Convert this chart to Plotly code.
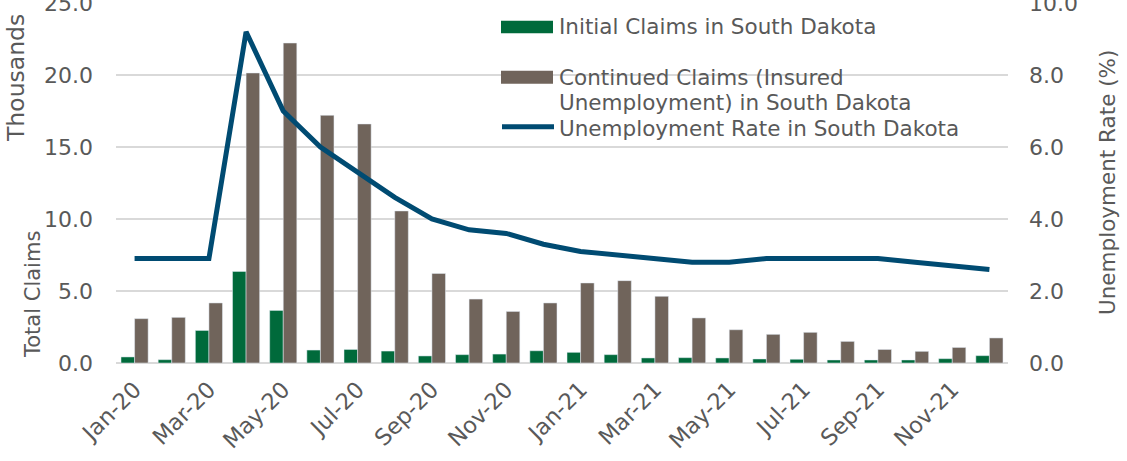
import plotly.graph_objects as go

# Monthly unemployment insurance data, South Dakota, 2020-2021
months = [
    "Jan-20", "Feb-20", "Mar-20", "Apr-20", "May-20", "Jun-20",
    "Jul-20", "Aug-20", "Sep-20", "Oct-20", "Nov-20", "Dec-20",
    "Jan-21", "Feb-21", "Mar-21", "Apr-21", "May-21", "Jun-21",
    "Jul-21", "Aug-21", "Sep-21", "Oct-21", "Nov-21", "Dec-21",
]
# Thousands of claims
initial_claims = [
    0.42, 0.23, 2.26, 6.36, 3.65, 0.90, 0.94, 0.83, 0.49, 0.58, 0.62, 0.85,
    0.74, 0.58, 0.35, 0.37, 0.35, 0.28, 0.26, 0.21, 0.21, 0.21, 0.30, 0.51,
]
continued_claims = [
    3.08, 3.17, 4.17, 20.14, 22.22, 17.2, 16.6, 10.56, 6.22, 4.44, 3.58, 4.17,
    5.56, 5.72, 4.63, 3.13, 2.31, 1.99, 2.13, 1.50, 0.94, 0.81, 1.08, 1.74,
]
# Percent
unemployment_rate = [
    2.9, 2.9, 2.9, 9.2, 7.0, 6.0, 5.3, 4.6, 4.0, 3.7, 3.6, 3.3,
    3.1, 3.0, 2.9, 2.8, 2.8, 2.9, 2.9, 2.9, 2.9, 2.8, 2.7, 2.6,
]
tick_labels = months[::2]

GREEN = "#006A3B"
BROWN = "#70645B"
BLUE = "#004B72"
TEXT = "#595959"
GRID = "#D9D9D9"
FONT = "DejaVu Sans"

W, H = 1127, 461
L, R, T, B = 116, 119, 3, 98
PW, PH = W - L - R, H - T - B


def px(x):
    return (x - L) / PW


def py(y):
    return (H - B - y) / PH


fig = go.Figure()
fig.add_trace(go.Bar(x=months, y=initial_claims, marker_color=GREEN,
                     name="Initial Claims in South Dakota", showlegend=False))
fig.add_trace(go.Bar(x=months, y=continued_claims, marker_color=BROWN,
                     name="Continued Claims (Insured Unemployment) in South Dakota",
                     showlegend=False))
fig.add_trace(go.Scatter(x=months, y=unemployment_rate, yaxis="y2", mode="lines",
                         line=dict(color=BLUE, width=5),
                         name="Unemployment Rate in South Dakota", showlegend=False))

# Legend drawn by hand: wide swatches next to the labels
legend_items = [
    ("rect", GREEN, 20.7, 33.3, ["Initial Claims in South Dakota"], [27]),
    ("rect", BROWN, 70.7, 83.7, ["Continued Claims (Insured",
                                 "Unemployment) in South Dakota"], [77, 102.5]),
    ("line", BLUE, 126.7, 126.7, ["Unemployment Rate in South Dakota"], [128]),
]
shapes = []
annotations = []
for kind, color, y0, y1, texts, ys in legend_items:
    if kind == "rect":
        shapes.append(dict(type="rect", xref="paper", yref="paper",
                           x0=px(501), x1=px(553), y0=py(y0), y1=py(y1),
                           fillcolor=color, line=dict(width=0)))
    else:
        shapes.append(dict(type="line", xref="paper", yref="paper",
                           x0=px(502), x1=px(554), y0=py(y0), y1=py(y1),
                           line=dict(color=color, width=5)))
    for t, yy in zip(texts, ys):
        annotations.append(dict(text=t, xref="paper", yref="paper",
                                x=px(557), y=py(yy), xanchor="left", yanchor="middle",
                                showarrow=False, font=dict(size=21.5, color=TEXT)))

# Axis titles
annotations.append(dict(text="Thousands", xref="paper", yref="paper",
                        x=px(16), y=py(78), textangle=-90, showarrow=False,
                        xanchor="center", yanchor="middle",
                        font=dict(size=23.5, color=TEXT)))
annotations.append(dict(text="Total Claims", xref="paper", yref="paper",
                        x=px(33), y=py(295), textangle=-90, showarrow=False,
                        xanchor="center", yanchor="middle",
                        font=dict(size=21, color=TEXT)))
annotations.append(dict(text="Unemployment Rate (%)", xref="paper", yref="paper",
                        x=px(1107), y=py(183), textangle=-90, showarrow=False,
                        xanchor="center", yanchor="middle",
                        font=dict(size=21.5, color=TEXT)))

fig.update_layout(
    width=W, height=H,
    margin=dict(l=L, r=R, t=T, b=B, pad=0, autoexpand=False),
    paper_bgcolor="white", plot_bgcolor="white",
    font=dict(family=FONT, color=TEXT, size=22),
    barmode="group", bargap=0.27, bargroupgap=0.0,
    showlegend=False,
    shapes=shapes, annotations=annotations,
    xaxis=dict(type="category", tickmode="array", tickvals=tick_labels,
               ticktext=tick_labels, tickangle=-45, showgrid=False,
               showline=False, ticks="", ticklabelstandoff=8, automargin=False,
               tickfont=dict(size=22.5, color=TEXT)),
    yaxis=dict(range=[0, 25], dtick=5, tickformat=".1f", showgrid=True,
               gridcolor=GRID, gridwidth=2, zeroline=True, zerolinecolor=GRID,
               zerolinewidth=2, ticks="", ticklabelstandoff=22,
               ticklabeloverflow="allow", automargin=False,
               tickfont=dict(size=22, color=TEXT)),
    yaxis2=dict(range=[0, 10], dtick=2, tickformat=".1f", overlaying="y",
                side="right", showgrid=False, zeroline=False, ticks="",
                ticklabelstandoff=20, ticklabeloverflow="allow", automargin=False,
                tickfont=dict(size=22, color=TEXT)),
)

fig.write_html("out.html")
